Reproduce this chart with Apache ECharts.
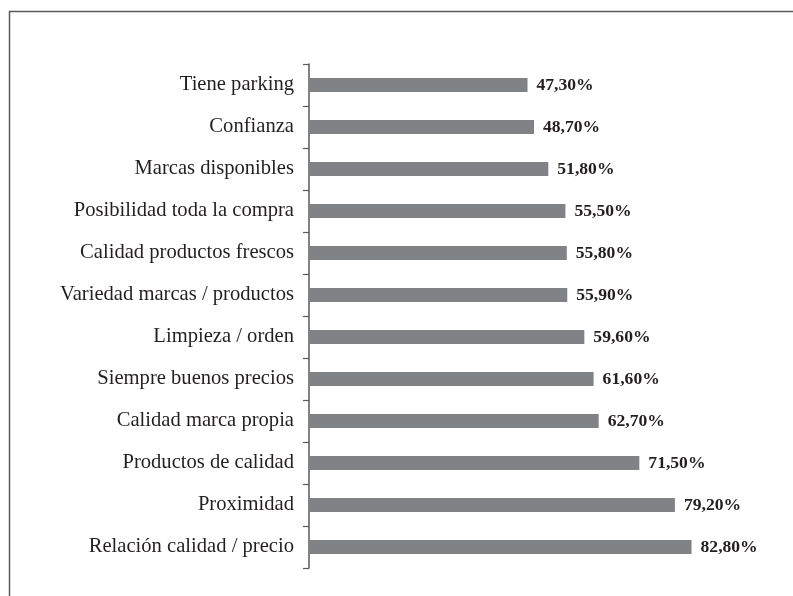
<!DOCTYPE html>
<html>
<head>
<meta charset="utf-8">
<script src="https://cdn.jsdelivr.net/npm/echarts@6/dist/echarts.min.js"></script>
<style>html,body{margin:0;padding:0;background:#fff}#c{width:793px;height:596px}</style>
</head>
<body>
<div id="c"></div>
<script>
var categories = ["Tiene parking","Confianza","Marcas disponibles","Posibilidad toda la compra","Calidad productos frescos","Variedad marcas / productos","Limpieza / orden","Siempre buenos precios","Calidad marca propia","Productos de calidad","Proximidad","Relación calidad / precio"];
var values = [47.3,48.7,51.8,55.5,55.8,55.9,59.6,61.6,62.7,71.5,79.2,82.8];

var chart = echarts.init(document.getElementById('c'), null, {renderer:'canvas'});
chart.setOption({
  animation:false,
  backgroundColor:'#ffffff',
  graphic:[{type:'rect', shape:{x:9.5,y:11.5,width:900,height:700}, style:{fill:'none',stroke:'#5a5a5a',lineWidth:1.5}, silent:true}],
  grid:{left:309,right:22,top:64,bottom:28},
  xAxis:{type:'value',min:0,max:100,show:false},
  yAxis:{type:'category',data:categories,inverse:true,
    axisLine:{show:true,lineStyle:{color:'#58595b',width:1.5}},
    axisTick:{show:true,length:6,alignWithLabel:false,lineStyle:{color:'#58595b',width:1.2}},
    axisLabel:{margin:15,fontFamily:'Liberation Serif',fontSize:20.6,color:'#231f20'},
    splitLine:{show:false}},
  series:[{type:'bar',data:values,barWidth:14,itemStyle:{color:'#808285'},
    label:{show:true,position:'right',distance:9,fontFamily:'Liberation Serif',fontWeight:'bold',fontSize:17.6,color:'#231f20',
      formatter:function(p){return p.value.toFixed(2).replace('.',',')+'%';}}}]
});
</script>
</body>
</html>
